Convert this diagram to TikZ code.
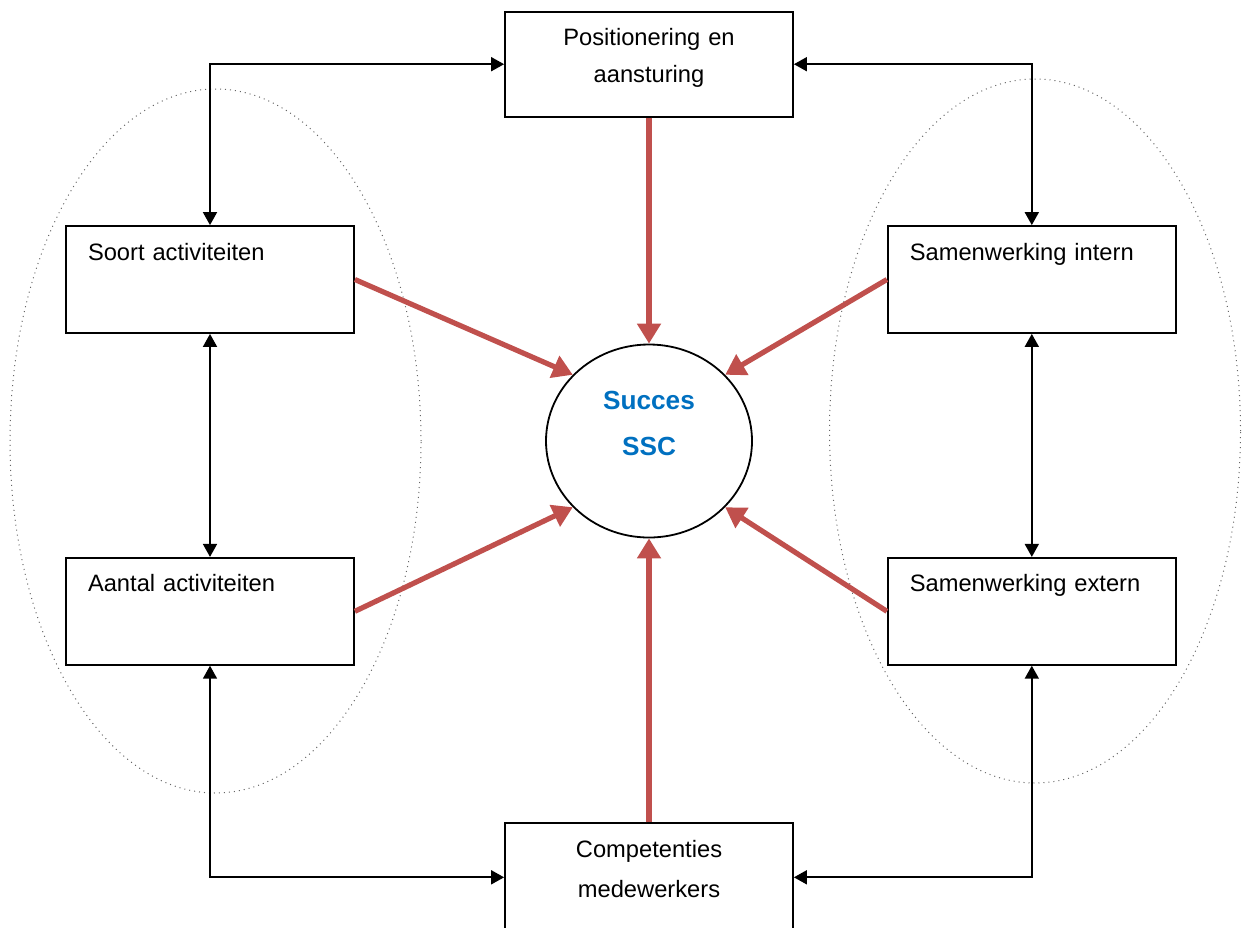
\documentclass[tikz,border=0pt]{standalone}
\usepackage{fontspec}
\setmainfont{Liberation Sans}
\usetikzlibrary{arrows.meta, positioning, shapes.geometric}
\definecolor{redline}{RGB}{192,80,77}
\definecolor{succblue}{RGB}{0,112,192}

\begin{document}
\begin{tikzpicture}[x=0.5pt, y=-0.5pt, node distance = 1cm, auto]
  \tikzstyle{block} = [rectangle, draw, line width=0.9pt, text = black,
      minimum width=144pt, minimum height=53.5pt, inner ysep=0pt,
      font=\fontsize{11.85}{18.5}\selectfont]
  \tikzstyle{leftblock} = [block, align=left, text width=122pt, inner xsep=10.5pt,
      text height=17pt, text depth=36.5pt]
  \tikzstyle{midblock} = [block, align=center, text width=130pt,
      text height=17pt, text depth=35.5pt]
  \tikzstyle{group} = [ellipse, draw=black!60, dotted, line width=0.5pt,
      minimum width=205.5pt, minimum height=352pt]
  \tikzstyle{line} = [draw, line width=0.9pt, {Triangle[length=6.5pt,width=7pt]}-{Triangle[length=6.5pt,width=7pt]}]
  \tikzstyle{redarrow} = [draw=redline, line width=2.6pt, -{Triangle[length=10pt,width=11.5pt]}, redline]
  \useasboundingbox (0,0) rectangle (1245,927);
      % Place nodes
      \node [group] (leftgroup) at (215.5,441) {};
      \node [group] (rightgroup) at (1035,431) {};
      \node [ellipse, draw, line width=0.9pt, minimum width=103pt, minimum height=96.5pt,
          align=center, text=succblue, inner sep=0pt, text height=34pt, text depth=20pt,
          font=\fontsize{13.1}{23}\selectfont\bfseries] (succes) at (649,441) {Succes\\SSC};
      \node [midblock, minimum height=52.5pt, above=113pt of succes] (positie) {Positionering en\\aansturing};
      \node [midblock, minimum height=54pt, text depth=37pt, below=142pt of succes] (competentie) {Competenties\\[1.5pt]medewerkers};
      \node [leftblock] (soort) at (210,279.5) {Soort activiteiten};
      \node [leftblock, below=111.5pt of soort] (aantal) {Aantal activiteiten};
      \node [leftblock, right=266pt of soort] (intern) {Samenwerking intern};
      \node [leftblock, below=111.5pt of intern] (extern) {Samenwerking extern};

  %paths
      \path [line] (soort.north) |- (positie.west);
      \path [line] (intern.north) |- (positie.east);
      \path [line] (soort) -- (aantal);
      \path [line] (intern) -- (extern);
      \path [line] (aantal.south) |- (competentie.west);
      \path [line] (extern.south) |- (competentie.east);

      \path [redarrow] (positie) -- (succes);
      \path [redarrow] (competentie) -- (succes);
      \path [redarrow] (soort.east) -- (succes.139);
      \path [redarrow] (aantal.east) -- (succes.221);
      \path [redarrow] (intern.west) -- (succes.41);
      \path [redarrow] (extern.west) -- (succes.319);
\end{tikzpicture}
\end{document}
